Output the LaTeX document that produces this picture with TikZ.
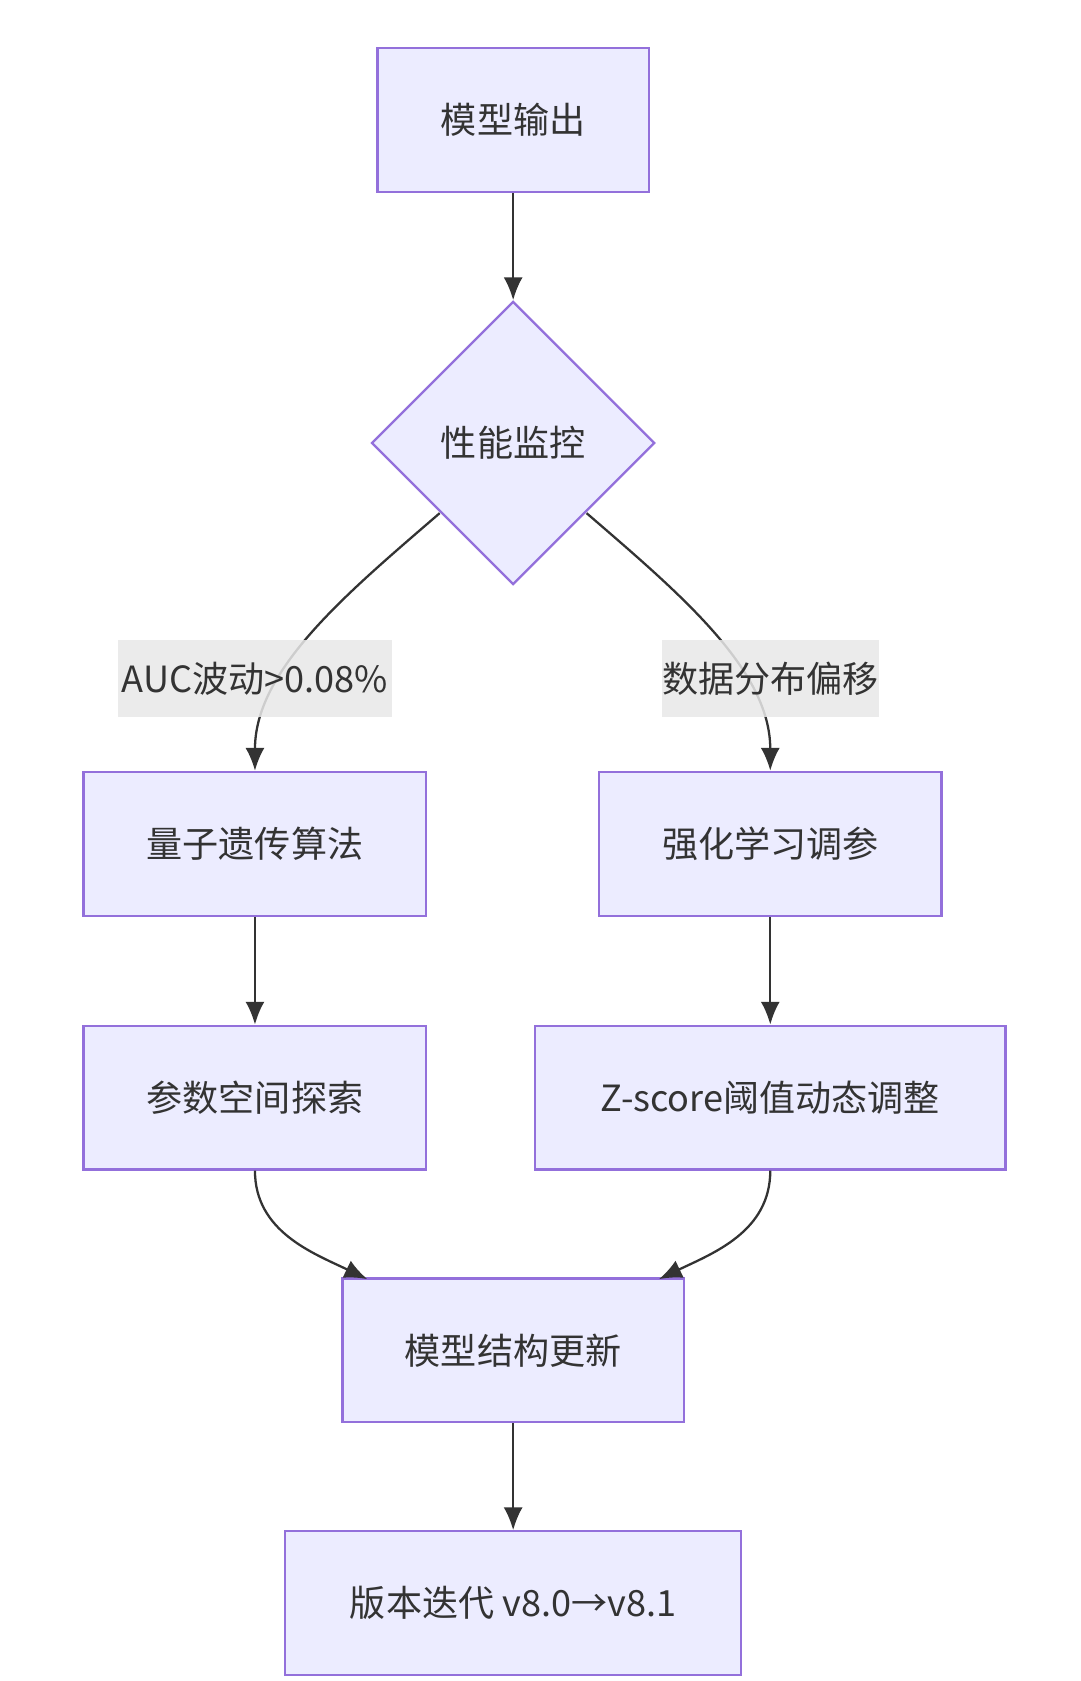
\documentclass[tikz,border=0pt]{standalone}
\usepackage{fontspec}
\setmainfont{Noto Sans CJK SC}
\usetikzlibrary{arrows.meta,shapes.geometric}
\definecolor{boxfill}{HTML}{ECECFF}
\definecolor{boxline}{HTML}{9370DB}
\definecolor{edgecol}{HTML}{333333}
\definecolor{lblfill}{HTML}{E8E8E8}
\tikzset{
  box/.style={draw=boxline,fill=boxfill,line width=0.6pt,minimum height=1.33cm,inner sep=0pt,text=edgecol},
  decide/.style={diamond,draw=boxline,fill=boxfill,line width=0.6pt,minimum width=2.62cm,minimum height=2.62cm,inner sep=0pt,text=edgecol},
  flow/.style={draw=edgecol,line width=0.6pt,-{Latex[length=6pt,width=5pt]}},
  lbl/.style={fill=lblfill,fill opacity=0.85,text opacity=1,inner sep=0pt,minimum height=0.71cm,text=edgecol}
}
\begin{document}
\begin{tikzpicture}[x=0.01cm,y=-0.01cm,font=\fontsize{9.5}{11}\selectfont]
\useasboundingbox (0,0) rectangle (1000,1556);
\node[box,minimum width=2.51cm] (out) at (475,111) {模型输出};
\node[decide] (mon) at (475,410) {性能监控};
\node[box,minimum width=3.17cm] (qga) at (236,781) {量子遗传算法};
\node[box,minimum width=3.17cm] (rl) at (713,781) {强化学习调参};
\node[box,minimum width=3.17cm] (ps) at (236,1016) {参数空间探索};
\node[box,minimum width=4.35cm] (zs) at (713,1016) {Z-score阈值动态调整};
\node[box,minimum width=3.16cm] (upd) at (475,1250) {模型结构更新};
\node[box,minimum width=4.22cm] (ver) at (475,1484) {版本迭代 v8.0→v8.1};
\coordinate (ml) at (407,475);
\coordinate (mr) at (543,475);
\draw[flow] (out) -- (mon);
\draw[flow] (ml) .. controls (320,550) and (236,620) .. (qga.north);
\draw[flow] (mr) .. controls (630,550) and (713,620) .. (rl.north);
\node[lbl,minimum width=2.53cm] (la) at (236,628) {AUC波动>0.08\%};
\node[lbl,minimum width=1.94cm] (lb) at (713,628) {数据分布偏移};
\draw[flow] (qga) -- (ps);
\draw[flow] (rl) -- (zs);
\draw[flow] (ps.south) .. controls (236,1140) and (290,1160) .. (340,1184);
\draw[flow] (zs.south) .. controls (713,1140) and (660,1160) .. (610,1184);
\draw[flow] (upd) -- (ver);
\end{tikzpicture}
\end{document}
